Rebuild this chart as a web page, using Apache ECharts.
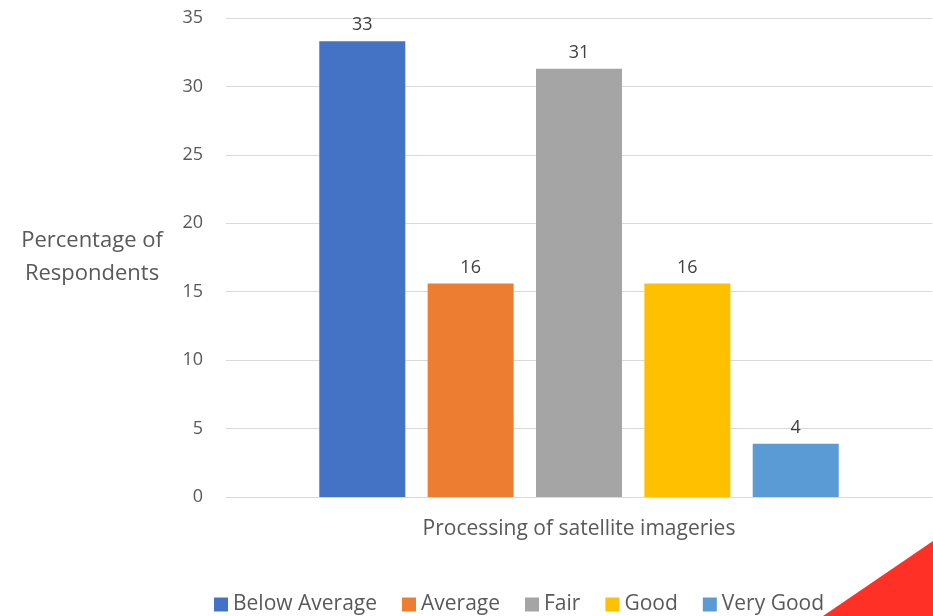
<!DOCTYPE html>
<html lang="en">

<head>
  <meta charset="UTF-8">
  <title>Processing of satellite imageries</title>
  <style>
    html,
    body {
      margin: 0;
      padding: 0;
      overflow: hidden;
      background: #fff;
    }

    #chart {
      width: 933px;
      height: 616px;
    }
  </style>
</head>

<body>
  <div id="chart"></div>
</body>
<script src="https://cdn.jsdelivr.net/npm/echarts@6/dist/echarts.min.js"></script>
<script>
  // data
  const categories = ['Processing of satellite imageries'];
  const seriesNames = ['Below Average', 'Average', 'Fair', 'Good', 'Very Good'];
  const seriesValues = [33.3, 15.6, 31.3, 15.6, 3.9];
  const colors = ['#4472c4', '#ed7d31', '#a5a5a5', '#ffc000', '#5b9bd5'];

  const font = '"Open Sans", "Noto Sans", sans-serif';
  const myChart = echarts.init(document.querySelector('#chart'));

  const series = seriesNames.map(function (name, i) {
    return {
      name: name,
      type: 'bar',
      data: [seriesValues[i]],
      barWidth: 86,
      barGap: '26%',
      itemStyle: { color: colors[i] },
      label: {
        show: true,
        position: 'top',
        distance: 7,
        color: '#404040',
        fontFamily: font,
        fontSize: 18,
        formatter: function (p) { return Math.round(p.value); }
      }
    };
  });

  const option = {
    animation: false,
    backgroundColor: '#fff',
    grid: { left: 226, right: 1, top: 18, bottom: 119 },
    legend: {
      data: seriesNames,
      left: 209,
      top: 589,
      itemWidth: 14,
      itemHeight: 14,
      itemGap: 25,
      icon: 'rect',
      textStyle: { color: '#595959', fontFamily: font, fontSize: 21 }
    },
    xAxis: {
      type: 'category',
      data: categories,
      axisLine: { lineStyle: { color: '#d9d9d9', width: 1 } },
      axisTick: { show: false },
      axisLabel: { color: '#595959', fontFamily: font, fontSize: 21, margin: 22 }
    },
    yAxis: {
      type: 'value',
      min: 0,
      max: 35,
      interval: 5,
      name: 'Percentage of\nRespondents',
      nameLocation: 'middle',
      nameRotate: 0,
      nameGap: 134,
      nameTextStyle: {
        color: '#595959', fontFamily: font, fontSize: 22,
        align: 'center', verticalAlign: 'middle', lineHeight: 33
      },
      axisLine: { show: false },
      axisTick: { show: false },
      axisLabel: { color: '#595959', fontFamily: font, fontSize: 18, margin: 23 },
      splitLine: { lineStyle: { color: '#d9d9d9', width: 1 } }
    },
    graphic: [{
      // red corner decoration
      type: 'polygon',
      z: -1,
      shape: { points: [[823, 616], [933, 541], [933, 616]] },
      style: { fill: '#ff3126' }
    }],
    series: series
  };
  myChart.setOption(option);
</script>

</html>
